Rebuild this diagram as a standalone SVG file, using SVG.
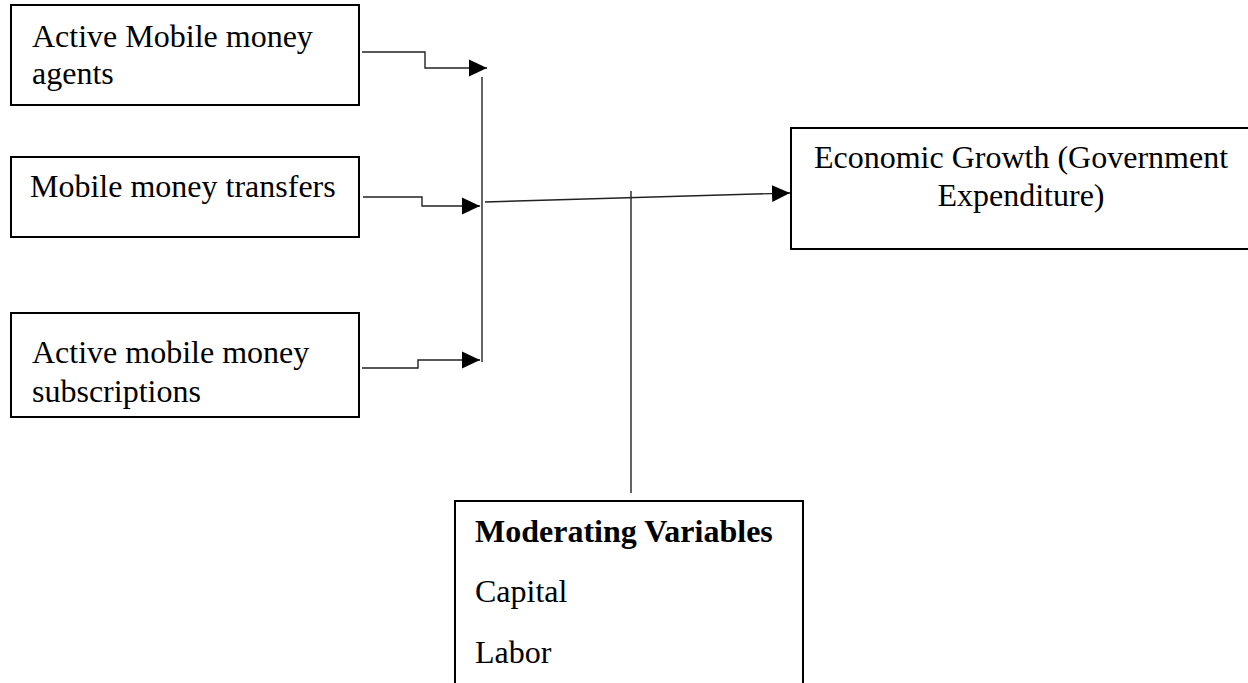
<svg xmlns="http://www.w3.org/2000/svg" width="1248" height="683" viewBox="0 0 1248 683">
<defs>
<style>
.box{fill:#fff;stroke:#000;stroke-width:2}
.t{font-family:"Liberation Serif","Times New Roman",serif;font-size:32px;fill:#000}
.b{font-weight:bold}
.c{fill:none;stroke:#222;stroke-width:1.4}
</style>
<marker id="ah" markerUnits="userSpaceOnUse" markerWidth="18" markerHeight="18" viewBox="0 0 16 16" refX="16" refY="8" orient="auto">
<path d="M0,0.5 L16,8 L0,15.5 Z" fill="#000"/>
</marker>
</defs>
<rect width="1248" height="683" fill="#fff"/>
<g id="n1">
<rect class="box" x="11" y="5" width="348" height="100"/>
<text class="t" x="32" y="47">Active Mobile money</text>
<text class="t" x="32" y="84">agents</text>
</g>
<g id="n2">
<rect class="box" x="11" y="157" width="348" height="80"/>
<text class="t" x="30" y="197">Mobile money transfers</text>
</g>
<g id="n3">
<rect class="box" x="11" y="313" width="348" height="104"/>
<text class="t" x="32" y="363">Active mobile money</text>
<text class="t" x="32" y="402">subscriptions</text>
</g>
<g id="n4">
<rect class="box" x="791" y="128" width="470" height="121"/>
<text class="t" x="1021" y="168" text-anchor="middle">Economic Growth (Government</text>
<text class="t" x="1021" y="206" text-anchor="middle">Expenditure)</text>
</g>
<g id="n5">
<rect class="box" x="455" y="501" width="348" height="200"/>
<text class="t b" x="475" y="542">Moderating Variables</text>
<text class="t" x="475" y="602">Capital</text>
<text class="t" x="475" y="663">Labor</text>
</g>
<g id="connectors">
<path class="c" d="M362,52 H425 V68 H487" marker-end="url(#ah)"/>
<path class="c" d="M363,197 H422 V206 H480" marker-end="url(#ah)"/>
<path class="c" d="M362,368 H418 V360 H480" marker-end="url(#ah)"/>
<line class="c" x1="482" y1="77" x2="482" y2="362"/>
<path class="c" d="M485,202 L790,193" marker-end="url(#ah)"/>
<line class="c" x1="631" y1="191" x2="631" y2="493"/>
</g>
</svg>
